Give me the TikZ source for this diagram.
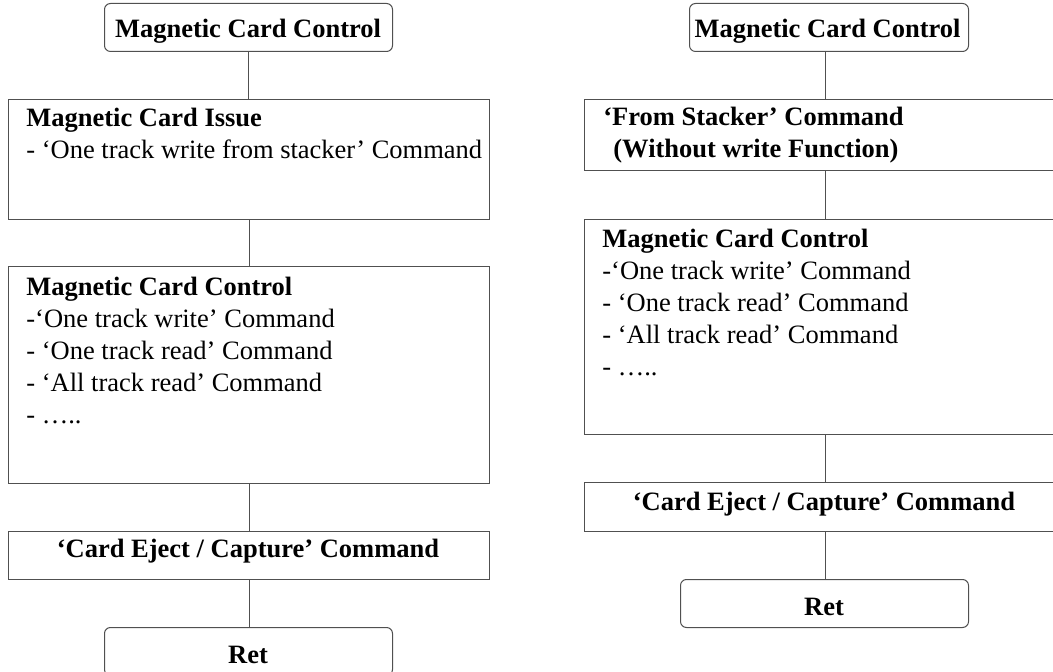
\documentclass[tikz,border=0pt]{standalone}
\usepackage{fontspec}
\setmainfont{Liberation Serif}
\usetikzlibrary{positioning}
\definecolor{cardline}{HTML}{505050}
\tikzset{
  termbox/.style={
    draw=cardline,
    line width=0.5pt,
    rounded corners=3pt,
    anchor=north west,
    inner sep=0pt,
    minimum width=#1,
    minimum height=24pt
  },
  termbox/.default=144pt,
  stepbox/.style={
    draw=cardline,
    line width=0.5pt,
    anchor=north west,
    inner sep=0pt,
    minimum width=240.5pt,
    minimum height=#1
  },
  boxtext/.style={inner sep=0pt,font=\fontsize{13.25pt}{16pt}\selectfont},
  titletext/.style={boxtext,anchor=base,font=\fontsize{13.25pt}{16pt}\selectfont\bfseries},
  listtext/.style={boxtext,align=left},
  link/.style={draw=cardline,line width=0.5pt}
}

\begin{document}
\begin{tikzpicture}[x=0.5pt,y=-0.5pt]
  \useasboundingbox (0,0) rectangle (1053,672);

  % left flow
  \node[termbox] (ltop) at (104,3) {};
  \node[stepbox=60pt] (lissue) at (8,99) {};
  \node[stepbox=108.5pt] (lctrl) at (8,266) {};
  \node[stepbox=24pt] (leject) at (8,531) {};
  \node[termbox] (lret) at (104,627) {};

  \node[titletext] (ltoptext) at (248,38) {Magnetic Card Control};
  \node[listtext, below right=2.3pt and 9pt of lissue.north west] (lissuetext)
    {\strut\textbf{Magnetic Card Issue}\\- ‘One track write from stacker’ Command};
  \node[listtext, below right=3.3pt and 9pt of lctrl.north west] (lctrltext)
    {\strut\textbf{Magnetic Card Control}\\-‘One track write’ Command\\- ‘One track read’ Command\\- ‘All track read’ Command\\- …..};
  \node[titletext] (lejecttext) at (248,558) {‘Card Eject / Capture’ Command};
  \node[titletext] (lrettext) at (248,663) {Ret};

  % right flow
  \node[termbox=139.5pt] (rtop) at (689,3) {};
  \node[stepbox=35.5pt, minimum width=241pt] (rstack) at (584,99) {};
  \node[stepbox=107.5pt, minimum width=241pt] (rctrl) at (584,219) {};
  \node[stepbox=24.5pt, minimum width=241pt] (reject) at (584,482) {};
  \node[termbox] (rret) at (680,579) {};

  \node[titletext] (rtoptext) at (827.5,38) {Magnetic Card Control};
  \node[listtext, font=\fontsize{13.25pt}{16pt}\selectfont\bfseries, below right=1.8pt and 9.5pt of rstack.north west] (rstacktext)
    {\strut‘From Stacker’ Command\\\hspace*{5pt}(Without write Function)};
  \node[listtext, below right=2.8pt and 9pt of rctrl.north west] (rctrltext)
    {\strut\textbf{Magnetic Card Control}\\-‘One track write’ Command\\- ‘One track read’ Command\\- ‘All track read’ Command\\- …..};
  \node[titletext] (rejecttext) at (824,510) {‘Card Eject / Capture’ Command};
  \node[titletext] (rrettext) at (824,615) {Ret};

  \draw[link] (ltop.south) -- (ltop.south |- lissue.north);
  \draw[link] (lissue.south) -- (lissue.south |- lctrl.north);
  \draw[link] (lctrl.south) -- (lctrl.south |- leject.north);
  \draw[link] (leject.south) -- (leject.south |- lret.north);
  \draw[link] (rstack.north) -- (rstack.north |- rtop.south);
  \draw[link] (rstack.south) -- (rstack.south |- rctrl.north);
  \draw[link] (rctrl.south) -- (rctrl.south |- reject.north);
  \draw[link] (reject.south) -- (reject.south |- rret.north);
\end{tikzpicture}
\end{document}
